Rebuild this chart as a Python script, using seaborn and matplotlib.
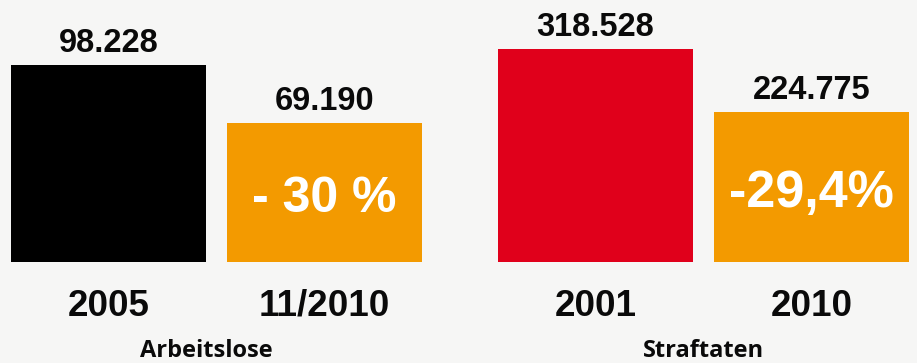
import matplotlib
matplotlib.use("Agg")
import matplotlib.pyplot as plt
import seaborn as sns
import pandas as pd

# Data
left_categories = ["2005", "11/2010"]
left_values = [98228, 69190]
left_labels = ["98.228", "69.190"]
left_change = "- 30 %"
left_title = "Arbeitslose"

right_categories = ["2001", "2010"]
right_values = [318528, 224775]
right_labels = ["318.528", "224.775"]
right_change = "-29,4%"
right_title = "Straftaten"

BG = "#f6f6f5"
ORANGE = "#f39a00"
left_colors = ["#000000", ORANGE]
right_colors = ["#e0001b", ORANGE]

sns.set_theme(style="white")
plt.rcParams["font.family"] = ["Liberation Sans", "DejaVu Sans"]

W, H = 917, 363
fig = plt.figure(figsize=(W / 100, H / 100), dpi=100)
fig.patch.set_facecolor(BG)

BAR_W = 195 / 217


def panel(left_px, cats, vals, labels, colors, change, title, top_frac, change_size, title_x):
    ax = fig.add_axes([left_px / W, 101 / H, 411 / W, 262 / H])
    df = pd.DataFrame({"cat": cats, "val": vals})
    sns.barplot(data=df, x="cat", y="val", hue="cat", palette=colors,
                legend=False, width=BAR_W, ax=ax, saturation=1, linewidth=0)
    ax.set_xlim(-BAR_W / 2, 1 + BAR_W / 2)
    ax.set_ylim(0, vals[0] / top_frac)
    ax.set_axis_off()
    for i, (v, lab, c) in enumerate(zip(vals, labels, cats)):
        ax.annotate(lab, xy=(i, v), xytext=(0, 18), textcoords="offset points",
                    ha="center", va="center_baseline", fontsize=23.5,
                    fontweight="bold", color="#0a0a0a")
        ax.annotate(c, xy=(i, 0), xytext=(0, -29), textcoords="offset points",
                    ha="center", va="center_baseline", fontsize=26.5,
                    fontweight="bold", color="#0a0a0a")
    ax.annotate(change, xy=(1, vals[1] / 2), xytext=(0, -1), textcoords="offset points",
                ha="center", va="center_baseline", fontsize=change_size,
                fontweight="bold", color="white")
    fig.text(title_x / W, 1 - 357 / H, title, ha="center", va="baseline",
             fontsize=17, fontweight="bold", color="#0a0a0a",
             family=["Open Sans", "DejaVu Sans"])
    return ax


panel(11, left_categories, left_values, left_labels, left_colors, left_change,
      left_title, 197 / 262, 36, 206)
panel(498, right_categories, right_values, right_labels, right_colors, right_change,
      right_title, 213 / 262, 37.5, 704)

fig.savefig("out.png", dpi=100, facecolor=BG)
